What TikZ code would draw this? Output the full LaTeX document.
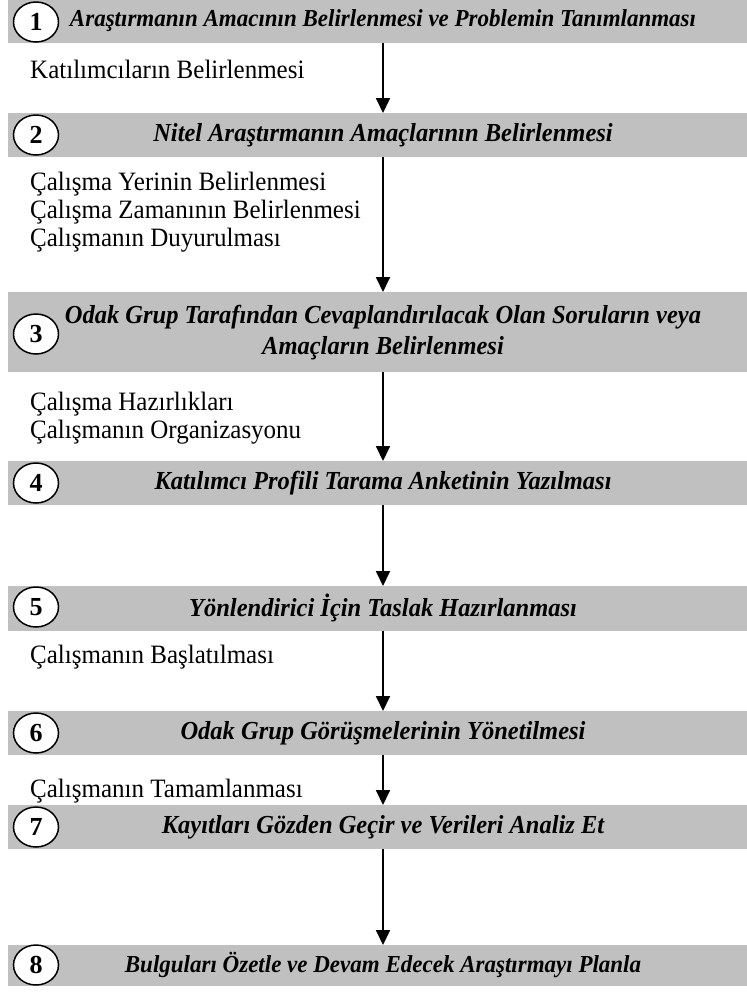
\documentclass[tikz,border=0pt]{standalone}
\usepackage{fontspec}
\usepackage{graphicx}
\setmainfont{Liberation Serif}
\usetikzlibrary{arrows.meta,shapes.geometric}
\definecolor{bargray}{RGB}{192,192,192}
\newcommand{\tallx}[1]{\scalebox{1}[1.06]{#1}}
\begin{document}
\begin{tikzpicture}[x=1pt,y=-1pt,
  bar/.style={fill=bargray, draw=none, inner sep=0, anchor=north west, minimum width=739pt},
  bartext/.style={font=\fontsize{24.5}{30}\selectfont\bfseries\itshape, inner sep=0},
  smallbartext/.style={bartext, font=\fontsize{23}{28}\selectfont\bfseries\itshape},
  num/.style={ellipse, draw, line width=1.5pt, fill=white, minimum width=45pt, minimum height=40pt, inner sep=0, font=\fontsize{26}{26}\selectfont\bfseries},
  lefttext/.style={font=\fontsize{25}{25}\selectfont, anchor=base west, inner sep=0},
  flow/.style={line width=1.8pt, -{Triangle[width=14pt,length=15pt]}}
]
\useasboundingbox (0,0) rectangle (747,994);
\coordinate (ax) at (383,0);
% bars
\node[bar, minimum height=43pt] (b1) at (8,0) {};
\node[bar, minimum height=44pt] (b2) at (8,113) {};
\node[bar, minimum height=80pt] (b3) at (8,292) {};
\node[bar, minimum height=44pt] (b4) at (8,461) {};
\node[bar, minimum height=45pt] (b5) at (8,586) {};
\node[bar, minimum height=44pt] (b6) at (8,711) {};
\node[bar, minimum height=44pt] (b7) at (8,805) {};
\node[bar, minimum height=41pt] (b8) at (8,945) {};
% bar texts
\node[smallbartext] (t1) at (383,21) {\tallx{Araştırmanın Amacının Belirlenmesi ve Problemin Tanımlanması}};
\node[bartext] (t2) at (383,135) {\tallx{Nitel Araştırmanın Amaçlarının Belirlenmesi}};
\node[bartext] (t3a) at (383,317) {\tallx{Odak Grup Tarafından Cevaplandırılacak Olan Soruların veya}};
\node[bartext] (t3b) at (383,348) {\tallx{Amaçların Belirlenmesi}};
\node[bartext] (t4) at (383,483) {\tallx{Katılımcı Profili Tarama Anketinin Yazılması}};
\node[bartext] (t5) at (383,608) {\tallx{Yönlendirici İçin Taslak Hazırlanması}};
\node[bartext] (t6) at (383,733) {\tallx{Odak Grup Görüşmelerinin Yönetilmesi}};
\node[bartext] (t7) at (383,827) {\tallx{Kayıtları Gözden Geçir ve Verileri Analiz Et}};
\node[smallbartext] (t8) at (383,965) {\tallx{Bulguları Özetle ve Devam Edecek Araştırmayı Planla}};
% numbers
\node[num] (n1) at (36,22) {1};
\node[num] (n2) at (36,135) {2};
\node[num] (n3) at (36,334) {3};
\node[num] (n4) at (36,483) {4};
\node[num] (n5) at (36,607) {5};
\node[num] (n6) at (36,733) {6};
\node[num] (n7) at (36,827) {7};
\node[num] (n8) at (36,965) {8};
% side texts
\node[lefttext] (s1) at (30,78) {\tallx{Katılımcıların Belirlenmesi}};
\node[lefttext] (s2) at (30,190) {\tallx{Çalışma Yerinin Belirlenmesi}};
\node[lefttext] (s3) at (30,218) {\tallx{Çalışma Zamanının Belirlenmesi}};
\node[lefttext] (s4) at (30,246) {\tallx{Çalışmanın Duyurulması}};
\node[lefttext] (s5) at (30,410) {\tallx{Çalışma Hazırlıkları}};
\node[lefttext] (s6) at (30,438) {\tallx{Çalışmanın Organizasyonu}};
\node[lefttext] (s7) at (30,663) {\tallx{Çalışmanın Başlatılması}};
\node[lefttext] (s8) at (30,797) {\tallx{Çalışmanın Tamamlanması}};
% arrows
\draw[flow] (b1.south -| ax) -- (b2.north -| ax);
\draw[flow] (b2.south -| ax) -- (b3.north -| ax);
\draw[flow] (b3.south -| ax) -- (b4.north -| ax);
\draw[flow] (b4.south -| ax) -- (b5.north -| ax);
\draw[flow] (b5.south -| ax) -- (b6.north -| ax);
\draw[flow] (b6.south -| ax) -- (b7.north -| ax);
\draw[flow] (b7.south -| ax) -- (b8.north -| ax);
\end{tikzpicture}
\end{document}
